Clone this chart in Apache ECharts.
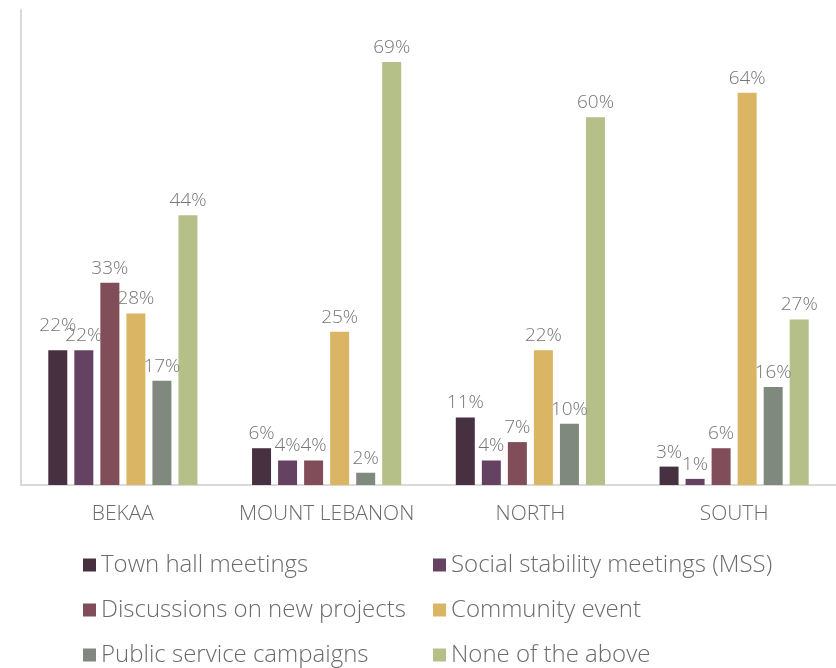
<!DOCTYPE html>
<html>
<head>
<meta charset="utf-8">
<script src="https://cdn.jsdelivr.net/npm/echarts@6/dist/echarts.min.js"></script>
<style>
  html, body { margin: 0; padding: 0; background: #ffffff; }
  #chart { width: 836px; height: 668px; }
</style>
</head>
<body>
<div id="chart"></div>
<script>
// Regions shown along the category axis
var regions = ['BEKAA', 'MOUNT LEBANON', 'NORTH', 'SOUTH'];

// Share of respondents (%) per engagement type, one value per region
var townHall       = [22, 6, 11, 3];
var socialStab     = [22, 4, 4, 1];
var discussions    = [33, 4, 7, 6];
var communityEvent = [28, 25, 22, 64];
var publicService  = [17, 2, 10, 16];
var noneAbove      = [44, 69, 60, 27];

var seriesNames = [
  'Town hall meetings',
  'Social stability meetings (MSS)',
  'Discussions on new projects',
  'Community event',
  'Public service campaigns',
  'None of the above'
];
var seriesValues = [townHall, socialStab, discussions, communityEvent, publicService, noneAbove];
var seriesColors = ['#47303f', '#664262', '#814d58', '#dab664', '#80897d', '#b4c088'];

var font = '"Open Sans", "Noto Sans", sans-serif';

var series = seriesNames.map(function (name, i) {
  var data = seriesValues[i].map(function (v, j) {
    // the first BEKAA label sits a little higher so it clears its neighbour
    if (i === 0 && j === 0) {
      return { value: v, label: { offset: [0, -10] } };
    }
    return v;
  });
  return {
    name: name,
    type: 'bar',
    data: data,
    barWidth: 19,
    barGap: '37%',
    itemStyle: { color: seriesColors[i] },
    label: {
      show: true,
      position: 'top',
      distance: 5,
      formatter: '{c}%',
      color: '#767676',
      fontFamily: font,
      fontWeight: 300,
      fontSize: 19
    }
  };
});

var legendText = { color: '#6b6b6b', fontFamily: font, fontWeight: 300, fontSize: 24 };

var chart = echarts.init(document.getElementById('chart'), null, { renderer: 'canvas' });
chart.setOption({
  animation: false,
  backgroundColor: '#ffffff',
  grid: { left: 21, right: 0, top: 10, bottom: 183 },
  xAxis: {
    type: 'category',
    data: regions,
    axisLine: { lineStyle: { color: '#d9d9d9', width: 2 } },
    axisTick: { show: false },
    axisLabel: {
      interval: 0,
      color: '#6b6b6b',
      fontFamily: font,
      fontWeight: 300,
      fontSize: 21,
      margin: 19
    }
  },
  yAxis: {
    type: 'value',
    min: 0,
    max: 77.5,
    axisLine: { show: true, lineStyle: { color: '#d9d9d9', width: 2 } },
    axisTick: { show: false },
    axisLabel: { show: false },
    splitLine: { show: false }
  },
  legend: [
    {
      orient: 'vertical',
      left: 83,
      top: 553,
      padding: 0,
      itemWidth: 13,
      itemHeight: 13,
      itemGap: 21,
      icon: 'rect',
      textStyle: legendText,
      data: [seriesNames[0], seriesNames[2], seriesNames[4]]
    },
    {
      orient: 'vertical',
      left: 433,
      top: 553,
      padding: 0,
      itemWidth: 13,
      itemHeight: 13,
      itemGap: 21,
      icon: 'rect',
      textStyle: legendText,
      data: [seriesNames[1], seriesNames[3], seriesNames[5]]
    }
  ],
  series: series
});
</script>
</body>
</html>
